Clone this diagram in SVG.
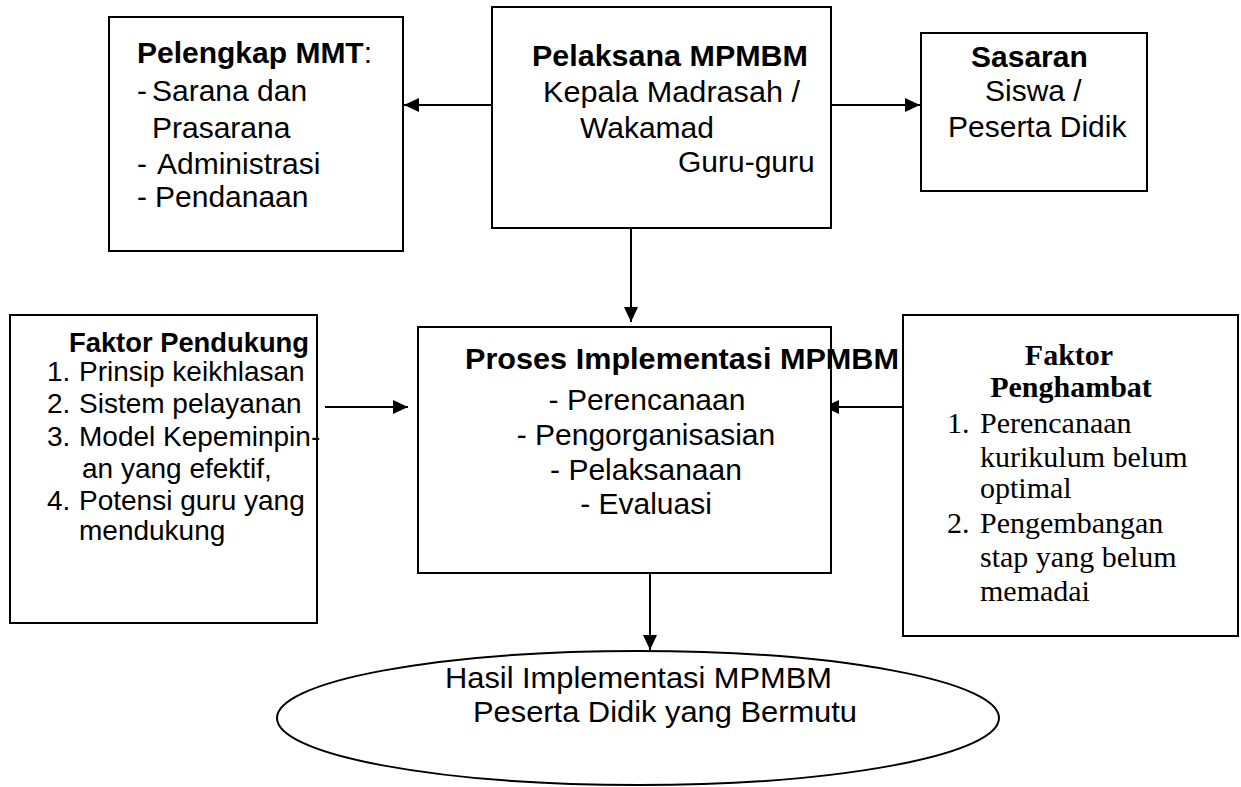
<svg xmlns="http://www.w3.org/2000/svg" width="1241" height="787" viewBox="0 0 1241 787">
<style>
.box{fill:#fff;stroke:#000;stroke-width:2}
.t{font-family:"Liberation Sans",Arial,sans-serif;font-size:30px;fill:#000}
.m{font-size:28px}
.b{font-weight:bold}
.s{font-family:"Liberation Serif","Times New Roman",serif;font-size:30px;fill:#000}
.ln{stroke:#000;stroke-width:2;fill:none}
</style>
<defs>
<marker id="ah" markerWidth="16" markerHeight="14" refX="15" refY="7" orient="auto" markerUnits="userSpaceOnUse">
<path d="M0,0 L15,7 L0,14 Z" fill="#000"/>
</marker>
</defs>
<rect width="1241" height="787" fill="#fff"/>
<g id="connectors">
<line class="ln" x1="492" y1="105" x2="404" y2="105" marker-end="url(#ah)"/>
<line class="ln" x1="831" y1="105" x2="920" y2="105" marker-end="url(#ah)"/>
<line class="ln" x1="631" y1="228" x2="631" y2="322" marker-end="url(#ah)"/>
<line class="ln" x1="325" y1="407" x2="408" y2="407" marker-end="url(#ah)"/>
<line class="ln" x1="903" y1="407" x2="824" y2="407" marker-end="url(#ah)"/>
<line class="ln" x1="650" y1="573" x2="650" y2="650" marker-end="url(#ah)"/>
</g>
<g id="pelengkap">
<rect class="box" x="109" y="17" width="294" height="234"/>
<text class="t" x="137" y="63"><tspan class="b">Pelengkap MMT</tspan>:</text>
<text class="t" x="137" y="101">-</text><text class="t" x="152" y="101">Sarana dan</text>
<text class="t" x="152" y="138">Prasarana</text>
<text class="t" x="137" y="174">-</text><text class="t" x="157" y="174">Administrasi</text>
<text class="t" x="137" y="207">-</text><text class="t" x="155" y="207">Pendanaan</text>
</g>
<g id="pelaksana">
<rect class="box" x="492" y="7" width="339" height="221"/>
<text class="t b" x="532" y="66" textLength="276" lengthAdjust="spacingAndGlyphs">Pelaksana MPMBM</text>
<text class="t" x="543" y="102" textLength="257" lengthAdjust="spacingAndGlyphs">Kepala Madrasah /</text>
<text class="t" x="580" y="138">Wakamad</text>
<text class="t" x="678" y="172">Guru-guru</text>
</g>
<g id="sasaran">
<rect class="box" x="921" y="33" width="226" height="158"/>
<text class="t b" x="971" y="67">Sasaran</text>
<text class="t" x="985" y="101">Siswa /</text>
<text class="t" x="948" y="137">Peserta Didik</text>
</g>
<g id="pendukung">
<rect class="box" x="10" y="315" width="307" height="308"/>
<text class="t m b" x="69" y="352" textLength="240" lengthAdjust="spacingAndGlyphs">Faktor Pendukung</text>
<text class="t m" x="47" y="381">1.</text><text class="t m" x="79" y="381">Prinsip keikhlasan</text>
<text class="t m" x="47" y="413">2.</text><text class="t m" x="79" y="413">Sistem pelayanan</text>
<text class="t m" x="47" y="446">3.</text><text class="t m" x="79" y="446">Model Kepeminpin-</text>
<text class="t m" x="82" y="478">an yang efektif,</text>
<text class="t m" x="47" y="510">4.</text><text class="t m" x="79" y="510">Potensi guru yang</text>
<text class="t m" x="79" y="540">mendukung</text>
</g>
<g id="proses">
<rect class="box" x="418" y="327" width="413" height="246"/>
<text class="t b" x="465" y="369" textLength="434" lengthAdjust="spacingAndGlyphs">Proses Implementasi MPMBM</text>
<text class="t" x="647" y="410" text-anchor="middle">- Perencanaan</text>
<text class="t" x="646" y="445" text-anchor="middle">- Pengorganisasian</text>
<text class="t" x="646" y="480" text-anchor="middle">- Pelaksanaan</text>
<text class="t" x="646" y="514" text-anchor="middle">- Evaluasi</text>
</g>
<g id="penghambat">
<rect class="box" x="903" y="315" width="335" height="321"/>
<text class="s b" x="1069" y="365" text-anchor="middle">Faktor</text>
<text class="s b" x="1071" y="397" text-anchor="middle">Penghambat</text>
<text class="s" x="947" y="433">1.</text><text class="s" x="980" y="433">Perencanaan</text>
<text class="s" x="980" y="467">kurikulum belum</text>
<text class="s" x="980" y="498">optimal</text>
<text class="s" x="947" y="533">2.</text><text class="s" x="980" y="533">Pengembangan</text>
<text class="s" x="980" y="567">stap yang belum</text>
<text class="s" x="980" y="601">memadai</text>
</g>
<g id="hasil">
<ellipse class="box" cx="638" cy="718" rx="361" ry="67"/>
<text class="t" x="445" y="688" textLength="387" lengthAdjust="spacingAndGlyphs">Hasil Implementasi MPMBM</text>
<text class="t" x="473" y="722" textLength="384" lengthAdjust="spacingAndGlyphs">Peserta Didik yang Bermutu</text>
</g>
</svg>
